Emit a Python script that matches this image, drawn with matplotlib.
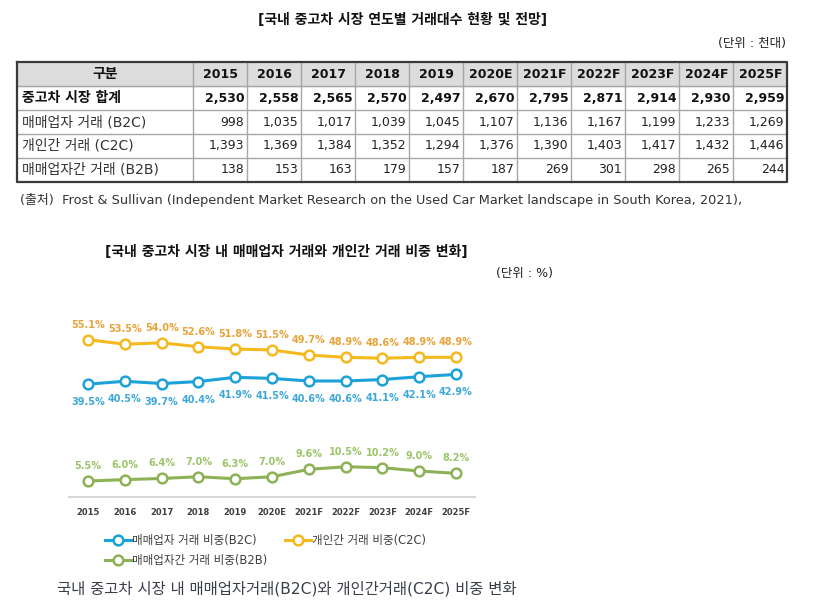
import matplotlib
matplotlib.use('Agg')
import matplotlib.pyplot as plt

plt.rcParams['font.family'] = ['DejaVu Sans', 'Noto Sans CJK KR']

# table data (unit: thousand cars)
years = ['2015', '2016', '2017', '2018', '2019', '2020E', '2021F', '2022F', '2023F', '2024F', '2025F']
row_names = ['중고차 시장 합계', '매매업자 거래 (B2C)', '개인간 거래 (C2C)', '매매업자간 거래 (B2B)']
total = [2530, 2558, 2565, 2570, 2497, 2670, 2795, 2871, 2914, 2930, 2959]
b2c = [998, 1035, 1017, 1039, 1045, 1107, 1136, 1167, 1199, 1233, 1269]
c2c = [1393, 1369, 1384, 1352, 1294, 1376, 1390, 1403, 1417, 1432, 1446]
b2b = [138, 153, 163, 179, 157, 187, 269, 301, 298, 265, 244]

# share data (%)
share_b2c = [39.5, 40.5, 39.7, 40.4, 41.9, 41.5, 40.6, 40.6, 41.1, 42.1, 42.9]
share_c2c = [55.1, 53.5, 54.0, 52.6, 51.8, 51.5, 49.7, 48.9, 48.6, 48.9, 48.9]
share_b2b = [5.5, 6.0, 6.4, 7.0, 6.3, 7.0, 9.6, 10.5, 10.2, 9.0, 8.2]
legend_names = ['매매업자 거래 비중(B2C)', '개인간 거래 비중(C2C)', '매매업자간 거래 비중(B2B)']

W, H = 828, 612
fig = plt.figure(figsize=(W / 100, H / 100), dpi=100)

# background axes in pixel coords for the table and texts
bg = fig.add_axes([0, 0, 1, 1])
bg.set_xlim(0, W)
bg.set_ylim(H, 0)
bg.axis('off')

bg.text(403, 20, '[국내 중고차 시장 연도별 거래대수 현황 및 전망]', ha='center', va='center',
        fontsize=10, fontweight='bold', color='#111111')
bg.text(786, 44, '(단위 : 천대)', ha='right', va='center', fontsize=9, color='#222222')

left, c0 = 17.3, 193.3
col_w = 54.0
top, row_h = 62.3, 23.9
ncols = len(years)
right = c0 + col_w * ncols
nrows = len(row_names) + 1
bottom = top + row_h * nrows

bg.fill_between([left, right], top, top + row_h, color='#dcdcdc', zorder=0)
for r in range(1, nrows):
    y = top + r * row_h
    bg.plot([left, right], [y, y], color='#a6a6a6', lw=1, zorder=1)
for c in range(ncols):
    x = c0 + c * col_w
    bg.plot([x, x], [top, bottom], color='#a6a6a6', lw=1, zorder=1)
bg.plot([left, right, right, left, left], [top, top, bottom, bottom, top], color='#3a3a3a', lw=1.6, zorder=2)

yc = top + row_h / 2
bg.text((left + c0) / 2, yc, '구분', ha='center', va='center', fontsize=10, fontweight='bold', color='#111111')
for c, yr in enumerate(years):
    bg.text(c0 + c * col_w + col_w / 2, yc, yr, ha='center', va='center', fontsize=9,
            fontweight='bold', color='#111111')

rows = [total, b2c, c2c, b2b]
for r, (name, vals) in enumerate(zip(row_names, rows)):
    yc = top + (r + 1.5) * row_h
    w = 'bold' if r == 0 else 'normal'
    col = '#111111' if r == 0 else '#333333'
    bg.text(left + 5, yc, name, ha='left', va='center', fontsize=10, fontweight=w, color=col)
    for c, v in enumerate(vals):
        bg.text(c0 + (c + 1) * col_w - 3, yc, f'{v:,}', ha='right', va='center', fontsize=9,
                fontweight=w, color='#111111' if r == 0 else '#222222')

bg.text(20, 200, '(출처)  Frost & Sullivan (Independent Market Research on the Used Car Market landscape in South Korea, 2021),',
        ha='left', va='center', fontsize=9.3, color='#333333')

bg.text(286, 252, '[국내 중고차 시장 내 매매업자 거래와 개인간 거래 비중 변화]', ha='center', va='center',
        fontsize=10, fontweight='bold', color='#111111')
bg.text(553, 274, '(단위 : %)', ha='right', va='center', fontsize=9, color='#222222')

bg.text(57, 589, '국내 중고차 시장 내 매매업자거래(B2C)와 개인간거래(C2C) 비중 변화', ha='left', va='center',
        fontsize=11.1, color='#3a3f4a')

# line chart
ax = fig.add_axes([69 / W, (H - 496.7) / H, 406 / W, 171 / H])
ax.set_facecolor('none')
x = list(range(len(years)))
series = [
    (share_b2c, '#1ca2d8', '#3ea8d8', -18),
    (share_c2c, '#f5b91e', '#e8a33a', 15),
    (share_b2b, '#8db255', '#9cc56a', 15),
]
handles = []
for (vals, lc, tc, off), name in zip(series, legend_names):
    h, = ax.plot(x, vals, color=lc, lw=2.2, marker='o', ms=7, mfc='white', mec=lc, mew=1.8,
                 label=name, clip_on=False)
    handles.append(h)
    for xi, v in zip(x, vals):
        ax.annotate(f'{v:.1f}%', (xi, v), xytext=(0, off), textcoords='offset pixels',
                    ha='center', va='center', fontsize=7, fontweight='bold', color=tc)

ax.set_xlim(-0.52, len(years) - 0.48)
ax.set_ylim(0, 60)
ax.set_yticks([])
ax.set_xticks(x)
ax.set_xticklabels(years, fontsize=6, fontweight='bold', color='#404040')
ax.tick_params(axis='x', length=0, pad=8)
for s in ['top', 'left', 'right']:
    ax.spines[s].set_visible(False)
ax.spines['bottom'].set_color('#d0d0d0')
ax.spines['bottom'].set_linewidth(1.2)

leg = ax.legend([handles[0], handles[2], handles[1]], [legend_names[0], legend_names[2], legend_names[1]],
                loc='upper left', bbox_to_anchor=(105 / W, 1 - 534 / H), bbox_transform=fig.transFigure,
                ncol=2, frameon=False, fontsize=8.3, handlelength=2.3, handletextpad=0.05,
                columnspacing=1.5, labelspacing=0.65, borderpad=0, borderaxespad=0)
for t in leg.get_texts():
    t.set_color('#404040')

fig.savefig('out.png', dpi=100)
